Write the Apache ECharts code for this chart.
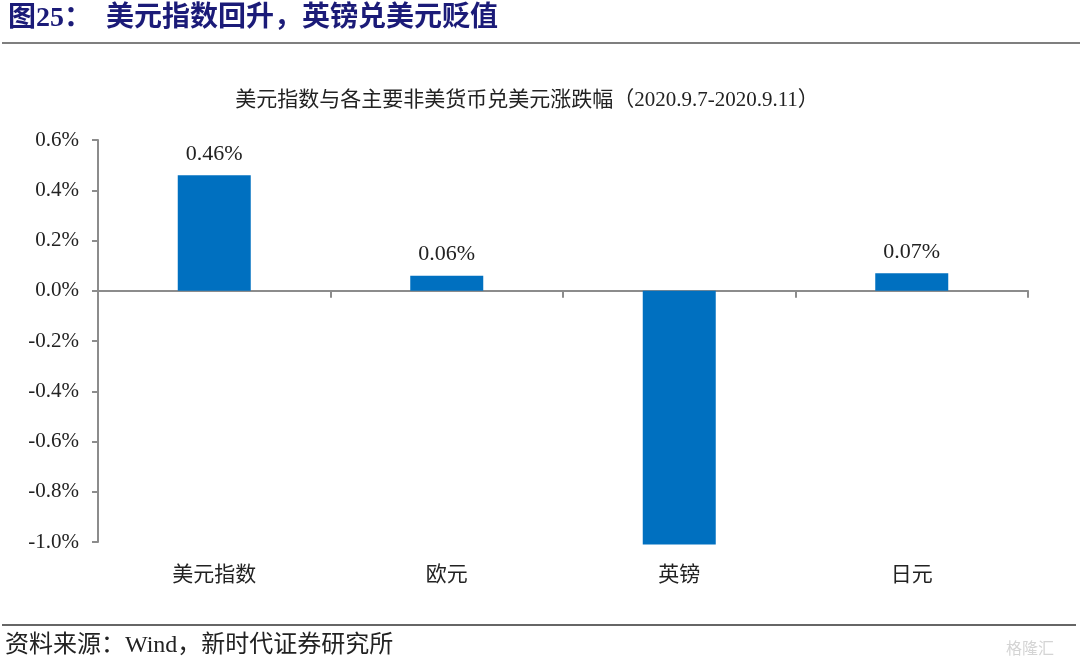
<!DOCTYPE html>
<html>
<head>
<meta charset="utf-8">
<script src="https://cdn.jsdelivr.net/npm/echarts@6/dist/echarts.min.js"></script>
<style>
html,body{margin:0;padding:0;background:#fff;}
#chart{width:1080px;height:665px;}
</style>
</head>
<body>
<div id="chart"></div>
<script>
var categories = ['美元指数', '欧元', '英镑', '日元'];
var changes = [0.46, 0.06, -1.01, 0.07];
var labelShown = [true, true, false, true];
var yTicks = { min: -1.0, max: 0.6, interval: 0.2 };
var headline = '图25：  美元指数回升，英镑兑美元贬值';
var subtitle = '美元指数与各主要非美货币兑美元涨跌幅（2020.9.7-2020.9.11）';
var source = '资料来源：Wind，新时代证券研究所';

var serif = '"Liberation Serif", "Noto Sans CJK SC", serif';
var chart = echarts.init(document.getElementById('chart'), null, { renderer: 'canvas' });

var barData = changes.map(function (v, i) {
  return { value: v, label: { show: labelShown[i] } };
});

chart.setOption({
  animation: false,
  backgroundColor: '#fff',
  title: {
    text: subtitle,
    left: 522, textAlign: 'center', top: 85,
    textStyle: { fontFamily: serif, fontSize: 21, fontWeight: 'normal', color: '#222' }
  },
  grid: { left: 98, right: 52, top: 140, bottom: 123, containLabel: false },
  xAxis: [
    {
      type: 'category', data: categories, position: 'bottom',
      axisLine: { show: false, onZero: false }, axisTick: { show: false },
      axisLabel: { fontFamily: serif, fontSize: 21, color: '#222', margin: 23 }
    },
    {
      type: 'category', data: categories, position: 'bottom',
      axisLine: { show: true, onZero: true, onZeroAxisIndex: 0, lineStyle: { color: '#8c8c8c', width: 2 } },
      axisTick: { show: true, length: 7, alignWithLabel: false, lineStyle: { color: '#8c8c8c', width: 2 } },
      axisLabel: { show: false }
    }
  ],
  yAxis: {
    type: 'value', min: yTicks.min, max: yTicks.max, interval: yTicks.interval,
    axisLine: { show: true, onZero: false, lineStyle: { color: '#8c8c8c', width: 2 } },
    axisTick: { show: true, length: 6, lineStyle: { color: '#8c8c8c', width: 2 } },
    splitLine: { show: false },
    axisLabel: {
      fontFamily: serif, fontSize: 21, color: '#222', margin: 19,
      formatter: function (v) { return v.toFixed(1) + '%'; }
    }
  },
  series: [{
    type: 'bar', xAxisIndex: 0, data: barData, barWidth: 73, clip: false,
    itemStyle: { color: '#0070C0' },
    label: {
      show: true, position: 'top', distance: 10,
      fontFamily: serif, fontSize: 22, color: '#222',
      formatter: function (p) { return p.value.toFixed(2) + '%'; }
    }
  }],
  graphic: [
    { type: 'text', left: 8, top: 5,
      style: { text: headline, font: 'bold 28px "Liberation Serif", "Noto Sans CJK SC", serif', fill: '#1b1b78' } },
    { type: 'line', shape: { x1: 2, y1: 43, x2: 1080, y2: 43 }, style: { stroke: '#555', lineWidth: 1.5 } },
    { type: 'line', shape: { x1: 2, y1: 625, x2: 1076, y2: 625 }, style: { stroke: '#333', lineWidth: 1.5 } },
    { type: 'text', left: 5, top: 634,
      style: { text: source, font: '24px "Liberation Serif", "Noto Sans CJK SC", serif', fill: '#222' } },
    { type: 'text', left: 1006, top: 640,
      style: { text: '格隆汇', font: '16px "Noto Sans CJK SC", sans-serif', fill: '#d4d4d4' } }
  ]
});
</script>
</body>
</html>
